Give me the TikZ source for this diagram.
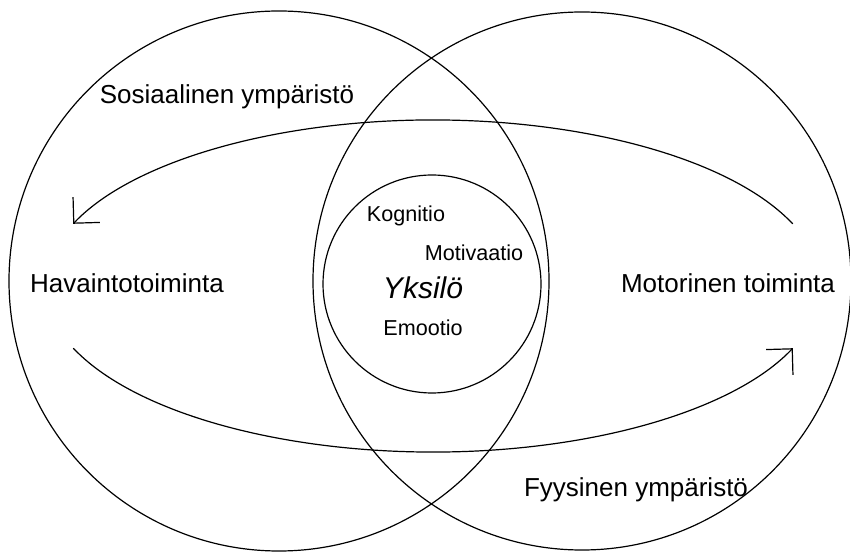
\documentclass[tikz,border=0pt]{standalone}
\usepackage{fontspec}
\setmainfont{Liberation Sans}
\usetikzlibrary{arrows.meta}

\begin{document}
\begin{tikzpicture}[x=0.5pt,y=0.5pt,line width=0.6pt,
  big/.style={font=\fontsize{13}{15}\selectfont},
  small/.style={font=\fontsize{10.8}{13}\selectfont},
  loop/.style={-{Straight Barb[length=9.2pt,width=18.4pt]}}]
  \useasboundingbox (0,0) rectangle (850,551);
  \draw (279,270) circle[radius=270];
  \draw (582,270) circle[radius=269];
  \draw (432,267) circle[radius=109];
  \node[big] (soc) at (227,454) {Sosiaalinen ympäristö};
  \node[big] (hav) at (127,268) {Havaintotoiminta};
  \node[big] (mot) at (728,268) {Motorinen toiminta};
  \node[big] (fys) at (636,61) {Fyysinen ympäristö};
  \node[small] (kog) at (406,335) {Kognitio};
  \node[small] (moti) at (474,298) {Motivaatio};
  \node[font=\fontsize{15}{18}\selectfont\itshape] (yks) at (423,263) {Yksilö};
  \node[small] (emo) at (423,223) {Emootio};
  \coordinate (ur) at (792.7,327.2);
  \coordinate (ll) at (73.3,202.8);
  \draw[loop] (ur) arc[start angle=22,end angle=158,x radius=388,y radius=166];
  \draw[loop] (ll) arc[start angle=202,end angle=338,x radius=388,y radius=166];
\end{tikzpicture}
\end{document}
